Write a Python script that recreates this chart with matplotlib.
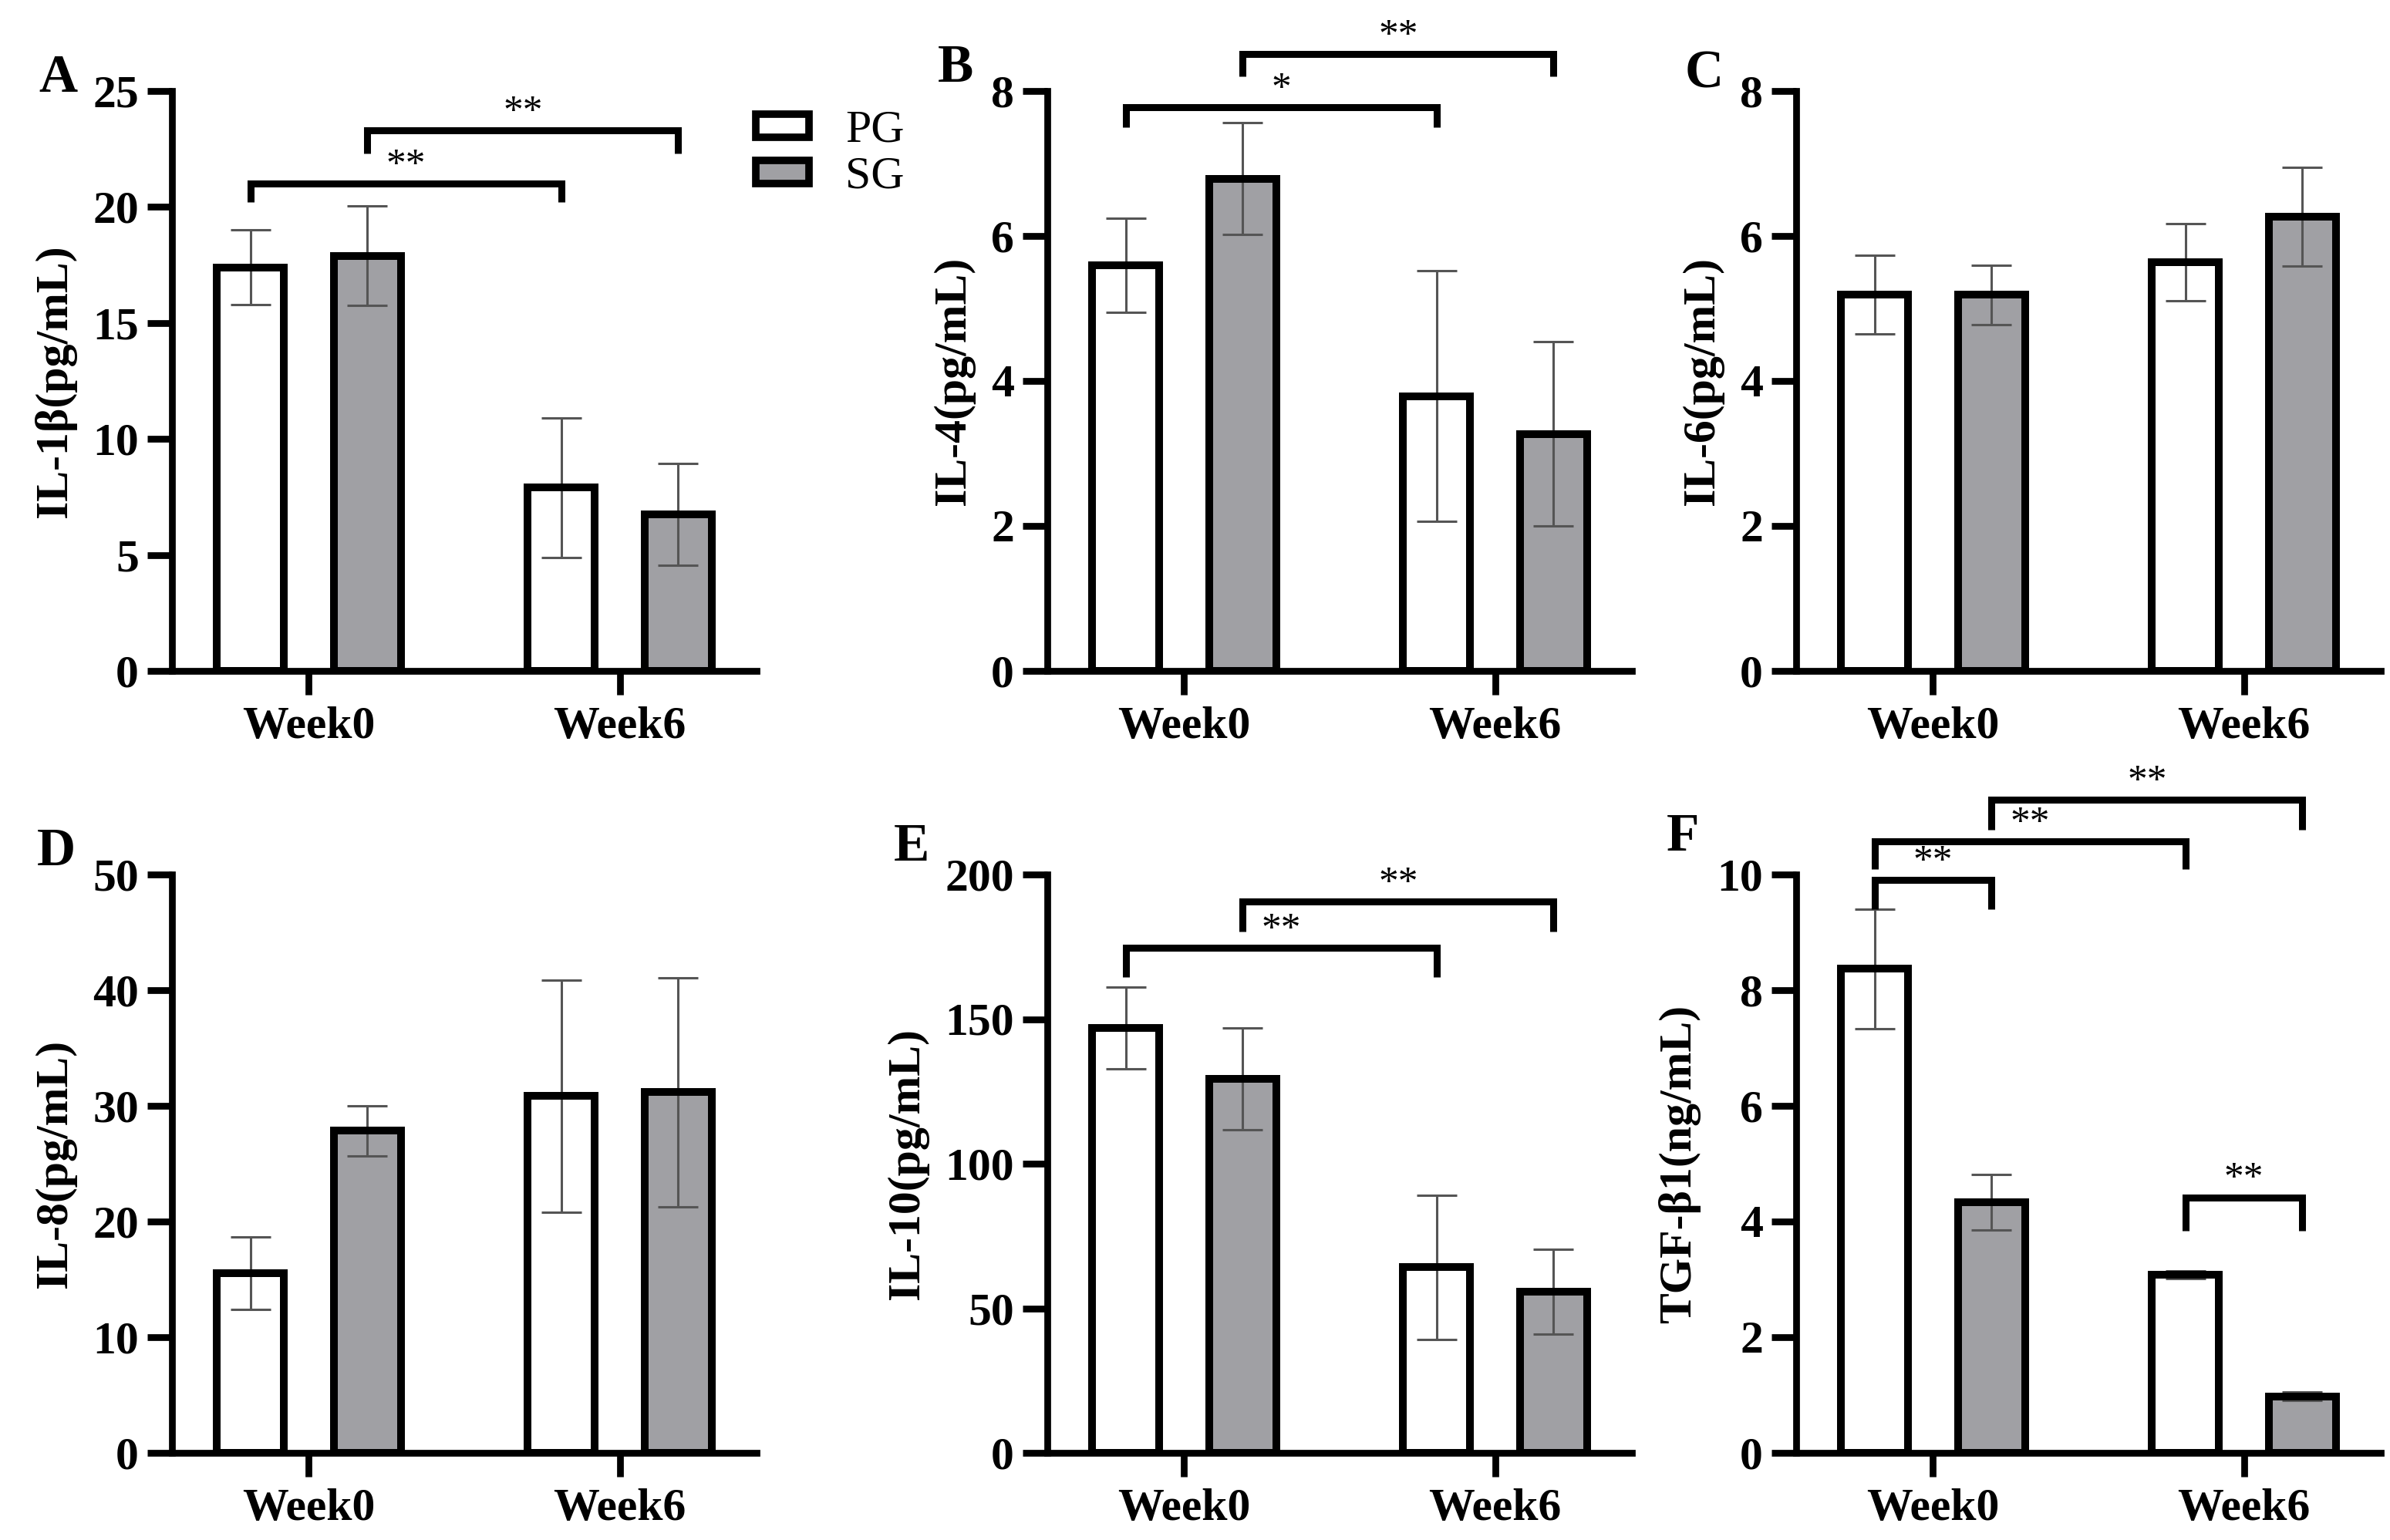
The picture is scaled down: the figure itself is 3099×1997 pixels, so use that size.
import numpy as np
import matplotlib.pyplot as plt
from matplotlib.patches import Patch

plt.rcParams['font.family'] = ['Liberation Serif', 'DejaVu Serif']

W, H = 3099, 1997

weeks = ['Week0', 'Week6']
groups = ['PG', 'SG']

# A: IL-1beta (pg/mL)
il1b_pg = [17.4, 7.9]
il1b_pg_sd = [1.6, 3.0]
il1b_sg = [17.9, 6.75]
il1b_sg_sd = [2.15, 2.2]
# significance brackets: (group1, week1, group2, week2, bar y, leg bottom y, label)
il1b_sig = [('PG', 0, 'PG', 1, 21.0, 20.2, '**'),
            ('SG', 0, 'SG', 1, 23.3, 22.3, '**')]

# B: IL-4 (pg/mL)
il4_pg = [5.6, 3.79]
il4_pg_sd = [0.65, 1.73]
il4_sg = [6.79, 3.27]
il4_sg_sd = [0.77, 1.27]
il4_sig = [('PG', 0, 'PG', 1, 7.78, 7.5, '*'),
           ('SG', 0, 'SG', 1, 8.51, 8.2, '**')]

# C: IL-6 (pg/mL)
il6_pg = [5.19, 5.64]
il6_pg_sd = [0.54, 0.53]
il6_sg = [5.19, 6.27]
il6_sg_sd = [0.41, 0.68]
il6_sig = []

# D: IL-8 (pg/mL)
il8_pg = [15.55, 30.85]
il8_pg_sd = [3.15, 10.05]
il8_sg = [27.85, 31.2]
il8_sg_sd = [2.15, 9.9]
il8_sig = []

# E: IL-10 (pg/mL)
il10_pg = [147.0, 64.2]
il10_pg_sd = [14.2, 24.9]
il10_sg = [129.4, 55.8]
il10_sg_sd = [17.6, 14.6]
il10_sig = [('PG', 0, 'PG', 1, 174.6, 164.5, '**'),
            ('SG', 0, 'SG', 1, 190.7, 180.3, '**')]

# F: TGF-beta1 (ng/mL)
tgf_pg = [8.37, 3.08]
tgf_pg_sd = [1.03, 0.07]
tgf_sg = [4.33, 0.98]
tgf_sg_sd = [0.48, 0.07]
tgf_sig = [('PG', 0, 'SG', 0, 9.91, 9.4, '**'),
           ('PG', 0, 'PG', 1, 10.57, 10.1, '**'),
           ('SG', 0, 'SG', 1, 11.29, 10.78, '**'),
           ('PG', 1, 'SG', 1, 4.42, 3.84, '**')]

OFF = 0.188
BW = 0.216
GRAY = '#a0a0a4'
FS = 43


def draw_panel(ax, pg, pg_sd, sg, sg_sd, ymax, ystep, ylabel, sig):
    x = np.arange(len(weeks))
    for xs, vals, sd, fc in [(x - OFF, pg, pg_sd, 'white'), (x + OFF, sg, sg_sd, GRAY)]:
        ax.bar(xs, vals, BW, color=fc, edgecolor='none', zorder=1)
        ax.errorbar(xs, vals, yerr=sd, fmt='none', ecolor='#555555',
                    elinewidth=2.2, capsize=19, capthick=2.2, zorder=2)
        ax.bar(xs, vals, BW, facecolor='none', edgecolor='black',
               linewidth=7.2, zorder=3)

    for g1, w1, g2, w2, y, yl, txt in sig:
        x1 = w1 + (-OFF if g1 == 'PG' else OFF)
        x2 = w2 + (-OFF if g2 == 'PG' else OFF)
        ax.plot([x1, x1, x2, x2], [yl, y, y, yl], color='black', lw=6.5,
                clip_on=False, solid_joinstyle='miter', solid_capstyle='butt',
                zorder=4)
        ax.annotate(txt, ((x1 + x2) / 2, y), xytext=(0, 8), textcoords='offset points',
                    ha='center', va='baseline', fontsize=37,
                    annotation_clip=False)

    ax.set_xlim(-0.44, 1.44)
    ax.set_ylim(0, ymax)
    ax.set_yticks(np.arange(0, ymax + ystep / 2, ystep))
    ax.set_xticks(x, weeks)
    for s in ['top', 'right']:
        ax.spines[s].set_visible(False)
    for s in ['left', 'bottom']:
        ax.spines[s].set_linewidth(6.3)
    ax.tick_params(axis='y', length=23, width=6.3, pad=8, labelsize=FS)
    ax.tick_params(axis='x', length=22, width=6.3, pad=11, labelsize=FS)
    for lab in ax.get_xticklabels() + ax.get_yticklabels():
        lab.set_fontweight('bold')
    ax.set_ylabel(ylabel, fontsize=FS, fontweight='bold', labelpad=15)


fig = plt.figure(figsize=(W / 100, H / 100), dpi=100)

lefts = [223, 1358, 2329]
aw = 758 / W
top_row = (1 - 870 / H, 752 / H)
bot_row = (1 - 1884 / H, 750 / H)

axA = fig.add_axes([lefts[0] / W, top_row[0], aw, top_row[1]])
axB = fig.add_axes([lefts[1] / W, top_row[0], aw, top_row[1]])
axC = fig.add_axes([lefts[2] / W, top_row[0], aw, top_row[1]])
axD = fig.add_axes([lefts[0] / W, bot_row[0], aw, bot_row[1]])
axE = fig.add_axes([lefts[1] / W, bot_row[0], aw, bot_row[1]])
axF = fig.add_axes([lefts[2] / W, bot_row[0], aw, bot_row[1]])

draw_panel(axA, il1b_pg, il1b_pg_sd, il1b_sg, il1b_sg_sd, 25, 5, 'IL-1β(pg/mL)', il1b_sig)
draw_panel(axB, il4_pg, il4_pg_sd, il4_sg, il4_sg_sd, 8, 2, 'IL-4(pg/mL)', il4_sig)
draw_panel(axC, il6_pg, il6_pg_sd, il6_sg, il6_sg_sd, 8, 2, 'IL-6(pg/mL)', il6_sig)
draw_panel(axD, il8_pg, il8_pg_sd, il8_sg, il8_sg_sd, 50, 10, 'IL-8(pg/mL)', il8_sig)
draw_panel(axE, il10_pg, il10_pg_sd, il10_sg, il10_sg_sd, 200, 50, 'IL-10(pg/mL)', il10_sig)
draw_panel(axF, tgf_pg, tgf_pg_sd, tgf_sg, tgf_sg_sd, 10, 2, 'TGF-β1(ng/mL)', tgf_sig)

# panel letters
for letter, lx, ly in [('A', 50, 119), ('B', 1216, 106), ('C', 2185, 113),
                       ('D', 48, 1122), ('E', 1159, 1116), ('F', 2161, 1103)]:
    fig.text(lx / W, 1 - ly / H, letter, ha='left', va='baseline',
             fontsize=50, fontweight='bold')

handles = [Patch(facecolor='white', edgecolor='black', linewidth=7),
           Patch(facecolor=GRAY, edgecolor='black', linewidth=7)]
fig.legend(handles, groups, loc='upper left', bbox_to_anchor=(980 / W, 1 - 143 / H),
           frameon=False, prop={'size': 43}, handlelength=1.15, handleheight=0.4,
           handletextpad=0.8, labelspacing=0.1, borderpad=0, borderaxespad=0)

fig.savefig('out.png', dpi=100)
